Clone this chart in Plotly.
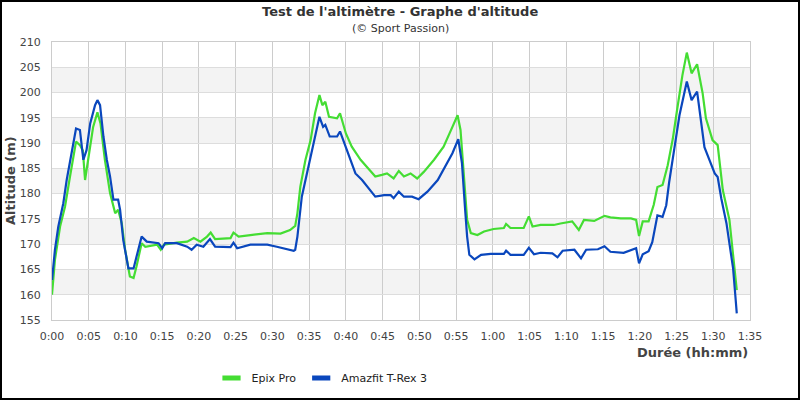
import plotly.graph_objects as go

# Time in minutes, altitude in metres
epix_t = [0, 0.4, 1.1, 1.77, 2.45, 3.0, 3.27, 3.8, 4.2, 4.5, 4.95, 5.6, 6.18, 6.6, 7.2, 7.9, 8.6, 9.0, 9.5, 9.95,
          10.6, 11.1, 11.5, 12.2, 12.7, 14.3, 14.8, 15.2, 17.0, 18.4, 19.3, 20.2, 21.1, 21.6, 22.2, 24.3, 24.7, 25.4,
          27.0, 29.3, 31.1, 32.4, 33.1, 33.4, 33.8, 34.5, 35.2, 35.8, 36.4, 36.8, 37.2, 37.7, 38.8, 39.2, 40.0, 40.8,
          42.0, 42.9, 44.0, 44.9, 45.6, 46.5, 47.2, 47.9, 48.8, 49.7, 50.6, 52.0, 53.3, 54.5, 55.2, 55.6, 56.1, 56.5,
          57.0, 57.9, 58.8, 60.1, 61.5, 61.8, 62.4, 64.2, 64.9, 65.4, 66.5, 68.3, 69.2, 70.8, 71.7, 72.4, 73.8, 75.2,
          76.0, 77.4, 78.8, 79.5, 79.9, 80.4, 81.2, 81.9, 82.4, 83.1, 83.8, 84.5, 85.1, 85.8, 86.4, 87.05, 87.8,
          88.55, 89.0, 89.9, 90.6, 91.3, 92.2, 92.8, 93.2]
epix_alt = [160.0, 166.9, 173.5, 177.4, 183.4, 188.5, 190.3, 189.6, 188.5, 182.7, 187.3, 193.2, 196.1, 193.9, 186.7,
            180.1, 176.1, 176.8, 174.1, 168.9, 163.6, 163.3, 165.6, 170.2, 169.5, 169.9, 168.9, 169.9, 170.3, 170.5,
            171.2, 170.5, 171.5, 172.3, 171.0, 171.2, 172.3, 171.5, 171.8, 172.2, 172.1, 172.8, 173.6, 176.1, 181.4,
            186.7, 190.6, 195.9, 199.5, 197.5, 198.2, 195.2, 194.9, 195.9, 191.9, 189.3, 186.7, 185.3, 183.4, 183.7,
            184.0, 183.0, 184.5, 183.4, 184.0, 183.0, 184.3, 186.7, 189.3, 193.2, 195.5, 192.6, 182.7, 174.8, 172.2,
            171.8, 172.5, 173.0, 173.2, 174.0, 173.2, 173.2, 175.5, 173.5, 173.8, 173.8, 174.1, 174.5, 172.8, 174.8,
            174.6, 175.6, 175.3, 175.1, 175.1, 174.8, 171.6, 174.5, 174.5, 177.8, 181.3, 181.7, 185.6, 190.9, 196.8,
            203.4, 207.9, 203.8, 205.6, 199.9, 194.9, 190.6, 189.6, 180.7, 174.8, 166.5, 160.9]

trex_t = [0, 0.4, 0.86, 1.54, 2.0, 2.7, 3.27, 3.8, 4.27, 4.7, 5.2, 5.86, 6.18, 6.54, 7.0, 7.46, 7.9, 8.36, 9.0, 9.27,
          9.7, 10.4, 11.1, 11.5, 12.2, 12.9, 14.5, 15.0, 15.4, 17.0, 18.4, 19.0, 19.7, 20.6, 21.5, 22.2, 24.3, 24.7,
          25.2, 27.0, 29.3, 30.6, 32.9, 33.1, 33.4, 34.0, 34.7, 35.4, 36.1, 36.4, 36.9, 37.2, 37.8, 38.8, 39.2, 40.0,
          40.6, 41.3, 42.2, 42.9, 44.0, 45.2, 46.1, 46.5, 47.2, 47.9, 49.0, 49.9, 51.1, 52.5, 53.8, 54.5, 55.3, 55.8,
          56.2, 56.5, 56.8, 57.5, 58.4, 59.7, 61.5, 61.8, 62.4, 64.2, 64.9, 65.6, 66.5, 68.1, 68.8, 69.5, 71.1, 72.0,
          72.7, 74.3, 75.2, 76.0, 77.8, 79.5, 79.9, 80.4, 81.2, 81.7, 82.4, 83.1, 83.6, 84.0, 84.7, 85.4, 86.4, 87.05,
          87.8, 88.3, 88.8, 89.5, 90.2, 90.6, 91.1, 91.8, 92.2, 92.7, 93.0, 93.2]
trex_alt = [162.9, 168.9, 173.5, 178.1, 182.7, 188.0, 192.9, 192.6, 186.7, 188.6, 193.9, 197.5, 198.5, 197.5, 191.3,
            186.7, 183.4, 178.8, 178.8, 176.8, 170.8, 165.2, 165.2, 167.5, 171.5, 170.5, 170.2, 169.2, 170.2, 170.2,
            169.5, 168.9, 169.9, 169.5, 171.0, 169.5, 169.4, 170.3, 169.2, 169.9, 169.9, 169.5, 168.7, 168.9, 171.5,
            179.4, 184.0, 188.6, 193.2, 195.2, 193.2, 193.6, 191.3, 191.3, 192.3, 189.0, 186.7, 184.0, 182.7, 181.4,
            179.4, 179.7, 179.7, 179.1, 180.4, 179.4, 179.4, 178.9, 180.4, 182.7, 186.3, 188.0, 190.8, 186.0, 177.4,
            171.5, 167.9, 167.0, 167.9, 168.1, 168.1, 168.7, 167.9, 167.9, 169.3, 168.0, 168.3, 168.2, 167.4, 168.7,
            168.9, 167.2, 168.9, 169.0, 169.6, 168.5, 168.3, 169.2, 166.2, 168.0, 168.6, 170.4, 175.7, 175.4, 177.7,
            182.3, 188.9, 195.5, 202.2, 198.5, 200.2, 194.8, 189.2, 186.6, 184.0, 183.3, 179.0, 174.1, 170.4, 165.2,
            159.9, 156.3]

x_ticks = list(range(0, 96, 5))
x_labels = ["%d:%02d" % (m // 60, m % 60) for m in x_ticks]
y_ticks = list(range(155, 211, 5))

GREEN = "#44dd33"
BLUE = "#0a47bd"
FONT = "DejaVu Sans"
PW, PH = 698, 278  # plot area size in px

fig = go.Figure()
fig.add_trace(go.Scatter(x=epix_t, y=epix_alt, mode="lines", line=dict(color=GREEN, width=2.2),
                         showlegend=False, hoverinfo="skip"))
fig.add_trace(go.Scatter(x=trex_t, y=trex_alt, mode="lines", line=dict(color=BLUE, width=2.2),
                         showlegend=False, hoverinfo="skip"))
# legend entries
for name, col in [("Epix Pro", GREEN), ("Amazfit T-Rex 3", BLUE)]:
    fig.add_trace(go.Scatter(x=[None], y=[None], mode="markers", name=name,
                             marker=dict(symbol="line-ew", size=13, line=dict(color=col, width=7))))

shapes = []
for lo in y_ticks[1::2]:
    shapes.append(dict(type="rect", xref="paper", yref="y", x0=0, x1=1, y0=lo, y1=lo + 5,
                       fillcolor="#f3f3f3", line=dict(width=0), layer="below"))
# black outer frame
shapes.append(dict(type="rect", xref="paper", yref="paper", x0=-51 / PW, x1=1 + 49 / PW,
                   y0=-79 / PH, y1=1 + 41 / PH, line=dict(color="black", width=2),
                   fillcolor="rgba(0,0,0,0)"))

fig.update_layout(
    width=800, height=400,
    margin=dict(l=52, r=50, t=42, b=80, autoexpand=False),
    paper_bgcolor="white", plot_bgcolor="rgba(0,0,0,0)",
    font=dict(family=FONT, size=11, color="#444"),
    shapes=shapes,
    showlegend=True,
    legend=dict(orientation="h", x=(322 - 52) / PW, xanchor="center", y=-58 / PH, yanchor="middle",
                font=dict(size=11, color="#222"), itemwidth=30, tracegroupgap=0),
    annotations=[
        dict(text="<b>Test de l'altimètre - Graphe d'altitude</b>", xref="paper", yref="paper",
             x=(400 - 52) / PW, y=1 + 31 / PH, xanchor="center", yanchor="middle", showarrow=False,
             font=dict(size=13, color="#333")),
        dict(text="(© Sport Passion)", xref="paper", yref="paper",
             x=(400 - 52) / PW, y=1 + 14 / PH, xanchor="center", yanchor="middle", showarrow=False,
             font=dict(size=11, color="#333")),
        dict(text="<b>Altitude (m)</b>", xref="paper", yref="paper", x=-42 / PW, y=0.5,
             xanchor="center", yanchor="middle", textangle=-90, showarrow=False,
             font=dict(size=13, color="#444")),
        dict(text="<b>Durée (hh:mm)</b>", xref="paper", yref="paper", x=1, y=-32 / PH,
             xanchor="right", yanchor="middle", showarrow=False,
             font=dict(size=13, color="#444")),
    ],
    xaxis=dict(range=[0, 95], tickvals=x_ticks, ticktext=x_labels, showgrid=True, gridcolor="#cccccc",
               gridwidth=1, showline=True, linecolor="#cccccc", mirror=True, zeroline=False,
               ticks="", ticklabelstandoff=6, automargin=False, tickfont=dict(size=11, color="#444")),
    yaxis=dict(range=[155, 210], tickvals=y_ticks, showgrid=True, gridcolor="#dddddd", gridwidth=1,
               showline=True, linecolor="#cccccc", mirror=True, zeroline=False, ticks="",
               ticklabelstandoff=8, automargin=False, tickfont=dict(size=11, color="#444")),
)

fig.write_html("out.html", config={"displayModeBar": False},
               post_script="document.body.style.margin='0';document.body.style.overflow='hidden';")
